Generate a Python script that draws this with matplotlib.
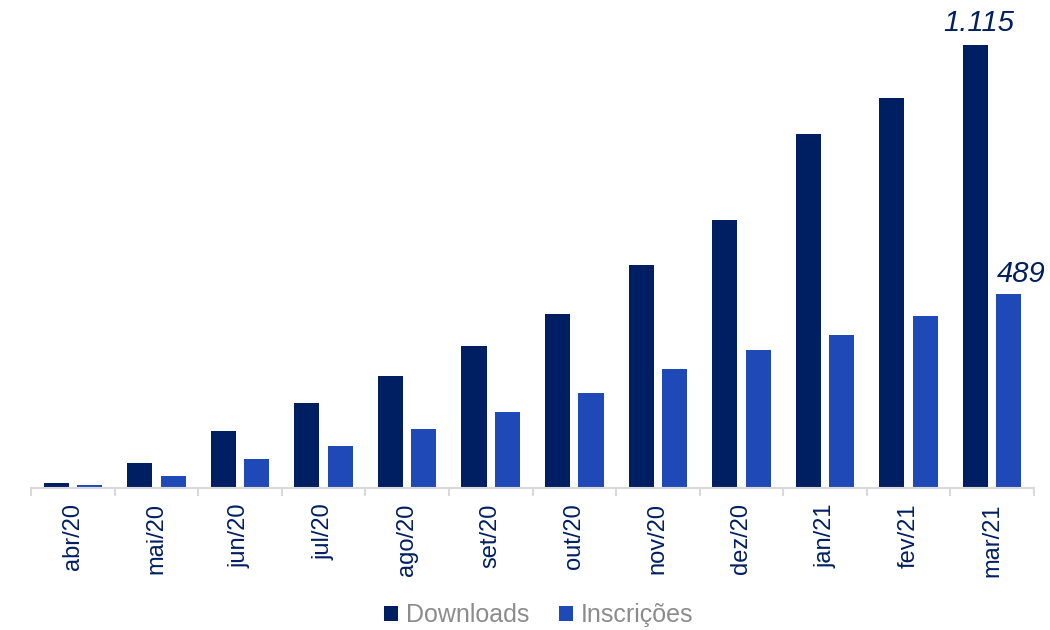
import matplotlib
matplotlib.use("Agg")
import matplotlib.pyplot as plt
import numpy as np

months = ["abr/20", "mai/20", "jun/20", "jul/20", "ago/20", "set/20",
          "out/20", "nov/20", "dez/20", "jan/21", "fev/21", "mar/21"]
downloads = [13, 63, 143, 214, 282, 357, 438, 561, 675, 891, 982, 1115]
inscricoes = [8, 30, 73, 106, 148, 191, 239, 300, 347, 385, 433, 489]

navy = "#001E62"
blue = "#1F49B6"

plt.rcParams["font.family"] = ["Liberation Sans", "DejaVu Sans"]

fig = plt.figure(figsize=(10.5, 6.3), dpi=100)
ax = fig.add_axes([31/1050, 1 - 488/630, 1003/1050, 488/630])

x = np.arange(len(months))
w = 0.30
b1 = ax.bar(x - 0.2, downloads, w, color=navy, label="Downloads")
b2 = ax.bar(x + 0.2, inscricoes, w, color=blue, label="Inscrições")

ax.set_xlim(-0.5, len(months) - 0.5)
ax.set_ylim(0, 1228)
ax.set_yticks([])
for s in ["top", "right", "left"]:
    ax.spines[s].set_visible(False)
ax.spines["bottom"].set_color("#D9D9D9")
ax.spines["bottom"].set_linewidth(1.5)

ax.set_xticks(x)
ax.set_xticklabels(months, rotation=90, color=navy, fontsize=17)
ax.tick_params(axis="x", length=0, pad=11)
ax.set_xticks(np.arange(-0.5, len(months)), minor=True)
ax.tick_params(axis="x", which="minor", length=6, width=1.5, color="#D9D9D9")

ax.annotate("1.115", (x[-1] - 0.2, downloads[-1]), xytext=(2, 6),
            textcoords="offset points", ha="center", va="bottom",
            fontsize=21, style="italic", color=navy)
ax.annotate("489", (x[-1] + 0.2, inscricoes[-1]), xytext=(9, 4),
            textcoords="offset points", ha="center", va="bottom",
            fontsize=21, style="italic", color=navy)

leg = fig.legend(handles=[b1, b2], loc="center", bbox_to_anchor=(0.513, 15/630),
                 ncol=2, frameon=False, fontsize=18, handlelength=0.55, handleheight=0.55,
                 handletextpad=0.3, columnspacing=1.2)
for t in leg.get_texts():
    t.set_color("#8C8C8C")

fig.savefig("out.png", dpi=100)
